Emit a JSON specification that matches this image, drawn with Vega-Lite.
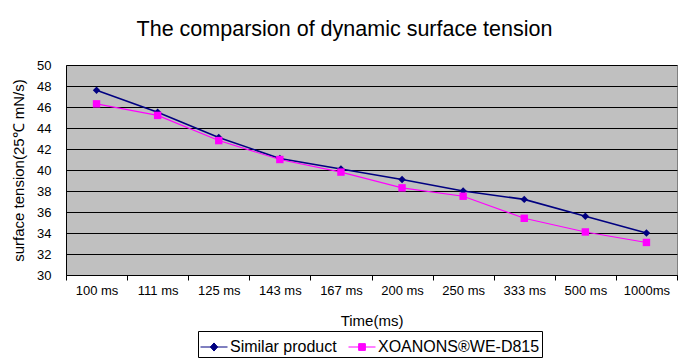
{
  "$schema": "https://vega.github.io/schema/vega-lite/v6.json",
  "width": 611,
  "height": 210,
  "autosize": {"type": "none"},
  "padding": {"left": 66, "top": 65, "right": 18, "bottom": 87},
  "background": "white",
  "title": {
    "text": "The comparsion of dynamic surface tension",
    "font": "Liberation Sans",
    "fontSize": 21.5,
    "fontWeight": "normal",
    "color": "black",
    "offset": 19,
    "anchor": "middle",
    "frame": "bounds"
  },
  "data": {
    "values": [
      {"time": "100 ms", "series": "Similar product", "value": 47.6},
      {"time": "111 ms", "series": "Similar product", "value": 45.5},
      {"time": "125 ms", "series": "Similar product", "value": 43.1},
      {"time": "143 ms", "series": "Similar product", "value": 41.1},
      {"time": "167 ms", "series": "Similar product", "value": 40.1},
      {"time": "200 ms", "series": "Similar product", "value": 39.1},
      {"time": "250 ms", "series": "Similar product", "value": 38.0},
      {"time": "333 ms", "series": "Similar product", "value": 37.2},
      {"time": "500 ms", "series": "Similar product", "value": 35.6},
      {"time": "1000ms", "series": "Similar product", "value": 34.0},
      {"time": "100 ms", "series": "XOANONS®WE-D815", "value": 46.3},
      {"time": "111 ms", "series": "XOANONS®WE-D815", "value": 45.2},
      {"time": "125 ms", "series": "XOANONS®WE-D815", "value": 42.8},
      {"time": "143 ms", "series": "XOANONS®WE-D815", "value": 41.0},
      {"time": "167 ms", "series": "XOANONS®WE-D815", "value": 39.8},
      {"time": "200 ms", "series": "XOANONS®WE-D815", "value": 38.3},
      {"time": "250 ms", "series": "XOANONS®WE-D815", "value": 37.5},
      {"time": "333 ms", "series": "XOANONS®WE-D815", "value": 35.4},
      {"time": "500 ms", "series": "XOANONS®WE-D815", "value": 34.1},
      {"time": "1000ms", "series": "XOANONS®WE-D815", "value": 33.1}
    ]
  },
  "encoding": {
    "x": {
      "field": "time",
      "type": "nominal",
      "sort": null,
      "bandPosition": 0.5,
      "scale": {"type": "band", "paddingInner": 0, "paddingOuter": 0},
      "axis": {
        "title": "Time(ms)",
        "labelAngle": 0,
        "tickBand": "extent",
        "tickSize": 5,
        "tickColor": "black",
        "domainColor": "black",
        "labelPadding": 4,
        "titlePadding": 16,
        "grid": false
      }
    },
    "y": {
      "field": "value",
      "type": "quantitative",
      "scale": {"domain": [30, 50], "nice": false, "zero": false},
      "axis": {
        "title": "surface tension(25℃ mN/s)",
        "values": [30, 32, 34, 36, 38, 40, 42, 44, 46, 48, 50],
        "ticks": false,
        "labelPadding": 15,
        "domainColor": "black",
        "grid": true,
        "gridColor": "black",
        "gridOpacity": 1,
        "gridWidth": 1,
        "titlePadding": 10
      }
    },
    "color": {
      "field": "series",
      "type": "nominal",
      "sort": null,
      "scale": {"range": ["#000080", "#FF00FF"]},
      "legend": {
        "orient": "none",
        "legendX": 132,
        "legendY": 266,
        "direction": "horizontal",
        "title": null,
        "strokeColor": "black",
        "fillColor": "white",
        "padding": 2,
        "labelFontSize": 16,
        "labelFont": "Liberation Sans",
        "labelColor": "black",
        "labelLimit": 300,
        "symbolSize": 729,
        "columnPadding": 9,
        "labelOffset": 2,
        "encode": {
          "symbols": {
            "update": {
              "shape": {"signal": "datum.value === 'Similar product' ? 'M-1,0H1M-0.27,0L0,-0.3L0.27,0L0,0.3Z' : 'M-1,0H1M-0.25,-0.25H0.25V0.25H-0.25Z'"},
              "fill": {"scale": "color", "field": "value"},
              "stroke": {"scale": "color", "field": "value"},
              "strokeWidth": {"value": 1},
              "opacity": {"value": 1}
            }
          }
        }
      }
    }
  },
  "layer": [
    {
      "mark": {"type": "line"},
      "encoding": {
        "strokeWidth": {
          "field": "series",
          "type": "nominal",
          "sort": null,
          "scale": {"range": [1.6, 1.1]},
          "legend": null
        }
      }
    },
    {
      "mark": {"type": "point", "filled": true, "opacity": 1},
      "encoding": {
        "shape": {
          "field": "series",
          "type": "nominal",
          "sort": null,
          "scale": {"range": ["diamond", "square"]},
          "legend": null
        },
        "size": {
          "field": "series",
          "type": "nominal",
          "sort": null,
          "scale": {"range": [55, 55]},
          "legend": null
        }
      }
    }
  ],
  "config": {
    "font": "Liberation Sans",
    "view": {"fill": "#C0C0C0", "stroke": "#808080", "strokeWidth": 1},
    "axis": {
      "labelFont": "Liberation Sans",
      "labelFontSize": 13,
      "labelColor": "black",
      "titleFont": "Liberation Sans",
      "titleFontSize": 15,
      "titleFontWeight": "normal",
      "titleColor": "black"
    }
  }
}
